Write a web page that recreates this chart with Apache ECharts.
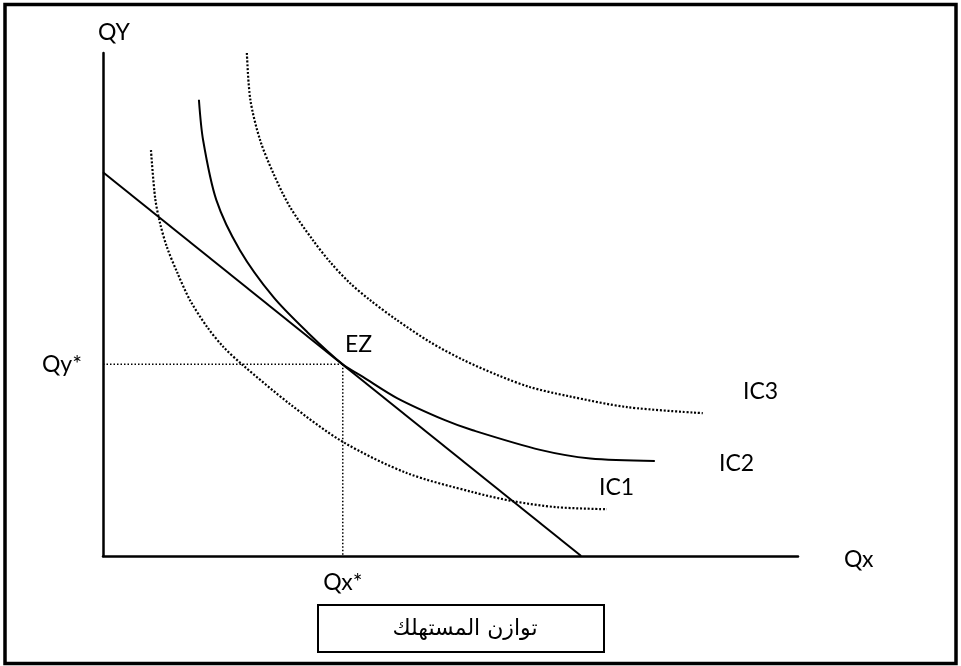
<!DOCTYPE html>
<html>
<head>
<meta charset="utf-8">
<script src="https://cdn.jsdelivr.net/npm/echarts@6/dist/echarts.min.js"></script>
<style>
  html, body { margin: 0; padding: 0; background: #fff; }
  #chart { width: 961px; height: 666px; }
</style>
</head>
<body>
<div id="chart"></div>
<script>
// indifference curves and budget line, axis units 0..100
const ic1 = [[6.9, 80.7], [7.5, 71.2], [8.2, 66.2], [9.2, 61.4], [10.7, 56.3], [12.5, 50.9], [15.0, 45.5],
  [17.3, 41.6], [20.0, 38.1], [26.9, 30.2], [34.5, 22.7], [43.7, 16.5], [53.2, 12.7], [59.0, 10.9], [65.3, 9.7], [72.5, 9.3]];
const ic2 = [[13.8, 90.7], [14.4, 82.7], [16.3, 70.8], [19.7, 60.8], [24.5, 51.5], [29.4, 44.5], [34.5, 38.1],
  [37.4, 35.6], [42.3, 31.4], [49.2, 27.0], [53.2, 25.0], [62.9, 21.1], [70.1, 19.4], [79.4, 18.9]];
const ic3 = [[20.7, 100], [21.2, 90.7], [22.6, 82.7], [24.5, 76.1], [26.9, 69.4], [30.2, 62.8], [32.7, 58.4],
  [35.5, 54.3], [38.4, 50.9], [42.3, 46.9], [47.1, 42.5], [51.8, 39.0], [56.7, 36.0], [61.4, 33.6],
  [66.9, 31.8], [75.4, 29.6], [86.3, 28.4]];
const budget = [[0, 76.3], [68.8, 0]];
const equilibrium = [34.5, 38.1];
const guideH = [[0, 38.1], [34.5, 38.1]];
const guideV = [[34.5, 38.1], [34.5, 0]];

const font = 'Lato, "Open Sans", sans-serif';
const chart = echarts.init(document.getElementById('chart'));

function txt(x, y, s) {
  return { type: 'text', left: x, top: y, style: { text: s, font: '23px ' + font, fill: '#000' } };
}

const dotted = { color: '#000', width: 2.2, type: [2, 1.8] };

chart.setOption({
  animation: false,
  backgroundColor: '#fff',
  grid: { left: 103, right: 163, top: 53, bottom: 110 },
  xAxis: {
    type: 'value', min: 0, max: 100,
    axisLine: { show: true, lineStyle: { color: '#000', width: 2.5 } },
    axisTick: { show: false },
    splitLine: { show: false },
    axisLabel: {
      customValues: [equilibrium[0]],
      formatter: () => 'Qx*',
      fontFamily: font, fontSize: 23, color: '#000', margin: 15
    }
  },
  yAxis: {
    type: 'value', min: 0, max: 100,
    axisLine: { show: true, lineStyle: { color: '#000', width: 2.5 } },
    axisTick: { show: false },
    splitLine: { show: false },
    axisLabel: {
      customValues: [equilibrium[1]],
      formatter: () => 'Qy*',
      fontFamily: font, fontSize: 23, color: '#000', margin: 21
    }
  },
  series: [
    { type: 'line', data: guideH, showSymbol: false, lineStyle: { color: '#000', width: 1.5, type: [1.5, 2] } },
    { type: 'line', data: guideV, showSymbol: false, lineStyle: { color: '#000', width: 1.5, type: [1.5, 2] } },
    { type: 'line', data: ic1, smooth: 0.3, showSymbol: false, lineStyle: dotted },
    { type: 'line', data: ic2, smooth: 0.3, showSymbol: false, lineStyle: { color: '#000', width: 2 } },
    { type: 'line', data: ic3, smooth: 0.3, showSymbol: false, lineStyle: dotted },
    { type: 'line', data: budget, showSymbol: false, lineStyle: { color: '#000', width: 2 } }
  ],
  graphic: [
    { type: 'rect', shape: { x: 5, y: 4.5, width: 951, height: 659 }, style: { fill: null, stroke: '#000', lineWidth: 3.5 } },
    { type: 'rect', shape: { x: 318, y: 605, width: 286, height: 47 }, style: { fill: null, stroke: '#000', lineWidth: 2 } },
    { type: 'text', x: 465, y: 629, style: { text: 'توازن المستهلك', font: '22px "DejaVu Sans", sans-serif', fill: '#000', align: 'center', verticalAlign: 'middle' } },
    txt(98, 21, 'QY'),
    txt(345, 333, 'EZ'),
    txt(743, 380, 'IC3'),
    txt(719, 452, 'IC2'),
    txt(599, 476, 'IC1'),
    txt(844, 548, 'Qx')
  ]
});
</script>
</body>
</html>
